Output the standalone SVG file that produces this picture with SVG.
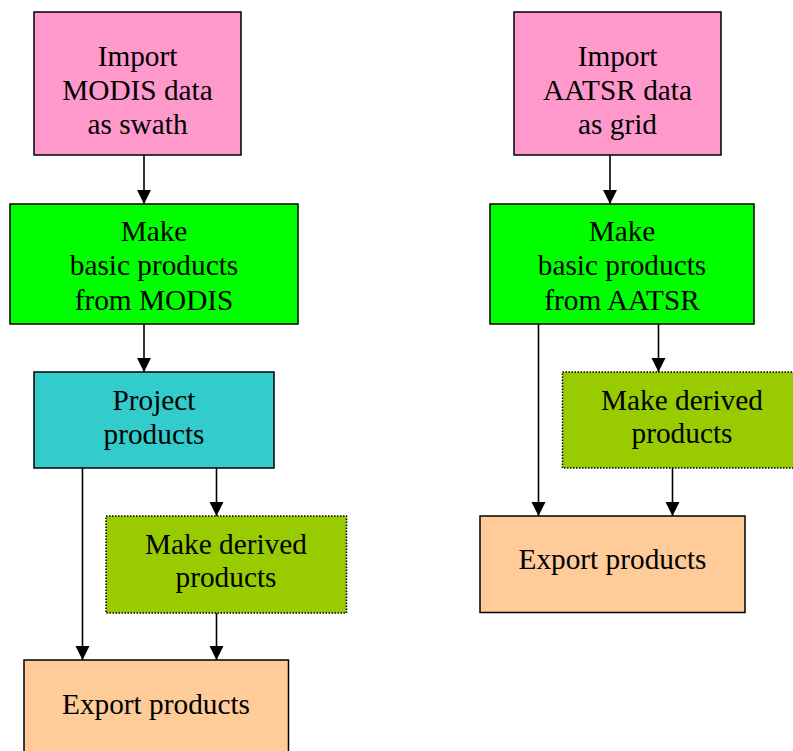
<svg xmlns="http://www.w3.org/2000/svg" width="793" height="751" viewBox="0 0 793 751">
<style>
.box{stroke:#000;stroke-width:1.5}
.dot{stroke:#000;stroke-width:1.5;stroke-dasharray:1.5 1.5}
.lbl{font-family:"Liberation Serif","Times New Roman",serif;font-size:29.3px;fill:#000;text-anchor:middle}
.edge{stroke:#000;stroke-width:1.6;fill:none;marker-end:url(#ah)}
</style>
<defs>
<marker id="ah" markerUnits="userSpaceOnUse" markerWidth="15" markerHeight="15" refX="14" refY="7" orient="auto">
<path d="M0,0 L14,7 L0,14 Z" fill="#000"/>
</marker>
</defs>
<rect width="793" height="751" fill="#fff"/>
<g id="connectors">
<line class="edge" x1="144" y1="155" x2="144" y2="204"/>
<line class="edge" x1="144" y1="324" x2="144" y2="372"/>
<line class="edge" x1="82.5" y1="468" x2="82.5" y2="660"/>
<line class="edge" x1="216.5" y1="468" x2="216.5" y2="516"/>
<line class="edge" x1="216.5" y1="613" x2="216.5" y2="660"/>
<line class="edge" x1="610" y1="155" x2="610" y2="204"/>
<line class="edge" x1="538.5" y1="324" x2="538.5" y2="516"/>
<line class="edge" x1="658.5" y1="324" x2="658.5" y2="372"/>
<line class="edge" x1="672.5" y1="468" x2="672.5" y2="516"/>
</g>
<g id="import-modis">
<rect class="box" x="34" y="12" width="207" height="143" fill="#FF99CC"/>
<text class="lbl" x="137.5" y="66">Import</text>
<text class="lbl" x="137.5" y="100">MODIS data</text>
<text class="lbl" x="137.5" y="133.5">as swath</text>
</g>
<g id="basic-modis">
<rect class="box" x="10" y="204" width="288" height="120" fill="#00FF00"/>
<text class="lbl" x="154" y="241">Make</text>
<text class="lbl" x="154" y="275">basic products</text>
<text class="lbl" x="154" y="309.5">from MODIS</text>
</g>
<g id="project">
<rect class="box" x="34" y="372" width="240" height="96" fill="#33CCCC"/>
<text class="lbl" x="154" y="410">Project</text>
<text class="lbl" x="154" y="443.5">products</text>
</g>
<g id="derived-modis">
<rect class="dot" x="106" y="516" width="240.5" height="97" fill="#99CC00"/>
<text class="lbl" x="226" y="553.5">Make derived</text>
<text class="lbl" x="226" y="587">products</text>
</g>
<g id="export-modis">
<rect class="box" x="24" y="660" width="264.5" height="100" fill="#FFCC99"/>
<text class="lbl" x="156" y="713.5">Export products</text>
</g>
<g id="import-aatsr">
<rect class="box" x="514" y="12" width="207" height="143" fill="#FF99CC"/>
<text class="lbl" x="617.5" y="66">Import</text>
<text class="lbl" x="617.5" y="100">AATSR data</text>
<text class="lbl" x="617.5" y="133.5">as grid</text>
</g>
<g id="basic-aatsr">
<rect class="box" x="490" y="204" width="264" height="120" fill="#00FF00"/>
<text class="lbl" x="622" y="241">Make</text>
<text class="lbl" x="622" y="275">basic products</text>
<text class="lbl" x="622" y="309.5">from AATSR</text>
</g>
<g id="derived-aatsr">
<rect class="dot" x="562.5" y="372" width="240" height="96" fill="#99CC00"/>
<text class="lbl" x="682" y="409.5">Make derived</text>
<text class="lbl" x="682" y="443">products</text>
</g>
<g id="export-aatsr">
<rect class="box" x="480" y="516" width="265" height="96.5" fill="#FFCC99"/>
<text class="lbl" x="612.5" y="568.5">Export products</text>
</g>
</svg>
